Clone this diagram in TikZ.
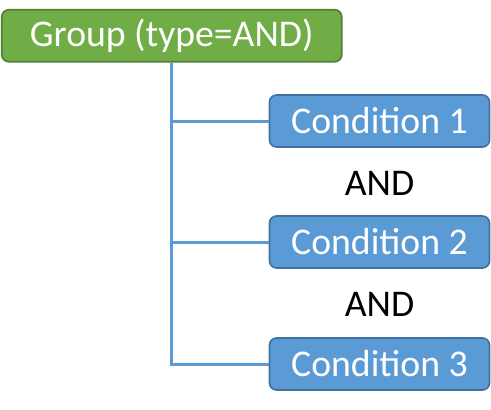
\documentclass[tikz,border=0pt]{standalone}
\usepackage{fontspec}
\setmainfont{Carlito}
\begin{document}
\begin{tikzpicture}[x=1pt,y=-1pt,
  box/.style={rounded corners=7pt, line width=1.6pt, text=white,
    inner sep=0pt, font=\fontsize{37.7}{42}\selectfont},
  groupbox/.style={box, fill=grpfill, draw=grpline, minimum width=340pt, minimum height=52pt},
  condbox/.style={box, fill=condfill, draw=condline, minimum width=220pt, minimum height=52pt},
  oplabel/.style={font=\fontsize{37.7}{42}\selectfont, text=black, inner sep=0pt},
  link/.style={draw=linkblue, line width=3pt}]
\definecolor{grpfill}{HTML}{70AD47}
\definecolor{grpline}{HTML}{507E32}
\definecolor{condfill}{HTML}{5B9BD5}
\definecolor{condline}{HTML}{41719C}
\definecolor{linkblue}{HTML}{5B9BD5}
\useasboundingbox (0,0) rectangle (491,410);

\node[groupbox] (g) at (171.75,35.75) {Group (type=AND)};
\node[condbox] (c1) at (379.5,121) {Condition 1};
\node[condbox] (c2) at (379.5,242) {Condition 2};
\node[condbox] (c3) at (379.5,364) {Condition 3};
\node[oplabel] (and1) at (379.5,183) {AND};
\node[oplabel] (and2) at (379.5,304) {AND};

% trunk from the group down to the last condition, with branches
\coordinate (t1) at (c1.west -| g.south);
\coordinate (t2) at (c2.west -| g.south);
\coordinate (t3) at (c3.west -| g.south);
\draw[link] (g.south) -- (t3) -- (c3.west);
\draw[link] (t1) -- (c1.west);
\draw[link] (t2) -- (c2.west);
\end{tikzpicture}
\end{document}
